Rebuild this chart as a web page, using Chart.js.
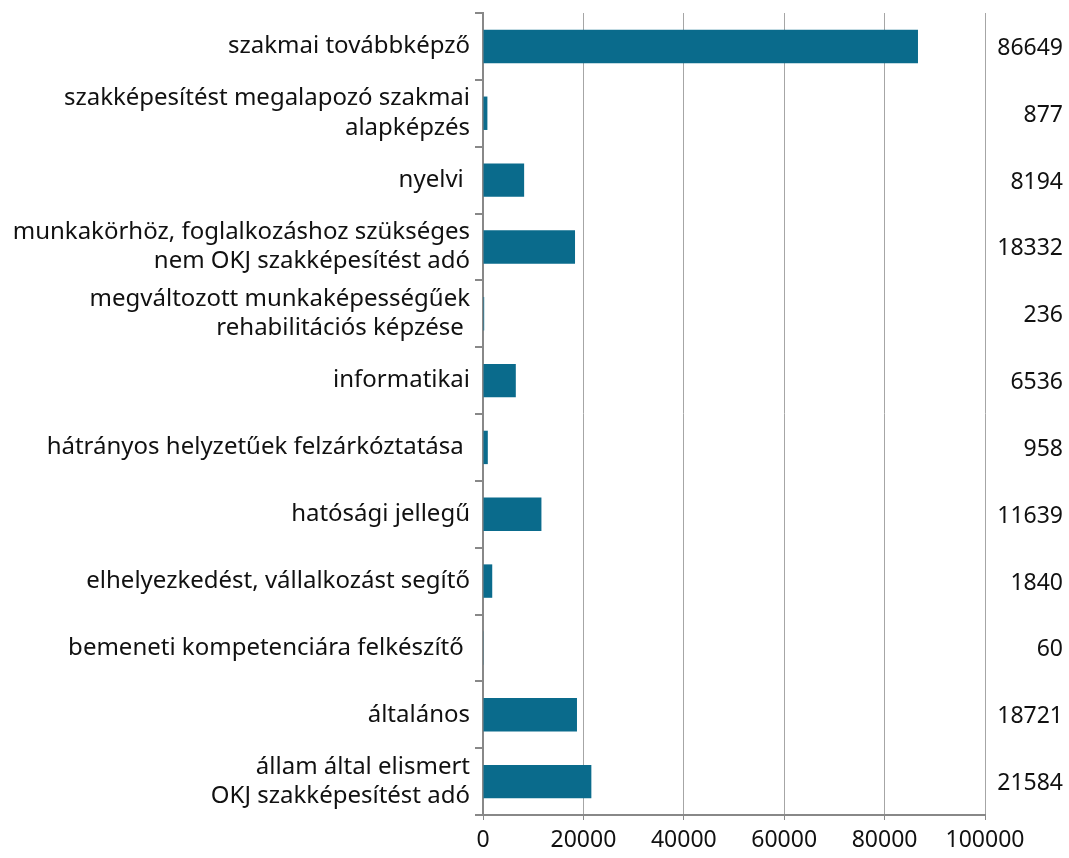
<!DOCTYPE html>
<html>
<head>
<meta charset="utf-8">
<script src="https://cdn.jsdelivr.net/npm/chart.js@4/dist/chart.umd.min.js"></script>
<style>
  html, body { margin: 0; padding: 0; background: #fff; }
  #wrap { width: 1069px; height: 858px; position: relative; }
</style>
</head>
<body>
<div id="wrap"><canvas id="chart"></canvas></div>
<script>
// képzési típusok
const categories = [
  'szakmai továbbképző',
  ['szakképesítést megalapozó szakmai', 'alapképzés'],
  'nyelvi ',
  ['munkakörhöz, foglalkozáshoz szükséges', 'nem OKJ szakképesítést adó'],
  ['megváltozott munkaképességűek', 'rehabilitációs képzése '],
  'informatikai',
  'hátrányos helyzetűek felzárkóztatása ',
  'hatósági jellegű',
  'elhelyezkedést, vállalkozást segítő',
  'bemeneti kompetenciára felkészítő ',
  'általános',
  ['állam által elismert', 'OKJ szakképesítést adó'],
];
const values = [86649, 877, 8194, 18332, 236, 6536, 958, 11639, 1840, 60, 18721, 21584];
const xTicks = [0, 20000, 40000, 60000, 80000, 100000];

const BAR = '#0a6b8c';
const FONT = "'Noto Sans', sans-serif";

Chart.defaults.font.family = FONT;
Chart.defaults.font.size = 23;
Chart.defaults.color = '#111';

// value column at the right of the plot
const valueLabels = {
  id: 'valueLabels',
  afterDatasetsDraw(chart) {
    const { ctx, chartArea, scales } = chart;
    ctx.save();
    ctx.font = '23px ' + FONT;
    ctx.fillStyle = '#111';
    ctx.textAlign = 'right';
    ctx.textBaseline = 'middle';
    chart.data.datasets[0].data.forEach((v, i) => {
      ctx.fillText(String(v), chartArea.right + 78, scales.y.getPixelForValue(i) + 2);
    });
    ctx.restore();
  }
};

new Chart(document.getElementById('chart'), {
  type: 'bar',
  data: {
    labels: categories,
    datasets: [{
      data: values,
      backgroundColor: BAR,
      borderWidth: 0,
      categoryPercentage: 1,
      barPercentage: 0.5,
    }]
  },
  options: {
    indexAxis: 'y',
    responsive: true,
    maintainAspectRatio: false,
    animation: false,
    layout: { padding: { top: 13, right: 84, left: 0, bottom: 0 } },
    plugins: { legend: { display: false }, tooltip: { enabled: false } },
    scales: {
      x: {
        min: 0, max: 100000,
        afterBuildTicks(scale) { scale.ticks = xTicks.map(v => ({ value: v })); },
        afterFit(scale) { scale.height = 43; scale.paddingLeft = 0; scale.paddingRight = 0; },
        grid: { color: '#a6a6a6', lineWidth: 1, tickLength: 5, tickColor: '#888' },
        border: { color: '#888', width: 2 },
        ticks: { padding: 7, callback: v => String(v), maxRotation: 0 },
      },
      y: {
        afterFit(scale) { scale.width = 483; scale.paddingTop = 0; scale.paddingBottom = 0; },
        grid: { drawOnChartArea: false, offset: true, tickLength: 8, color: '#888', lineWidth: 2 },
        border: { color: '#888', width: 2 },
        ticks: { padding: 5, font: { size: 24, lineHeight: 1.22 }, autoSkip: false },
      }
    }
  },
  plugins: [valueLabels]
});
</script>
</body>
</html>
